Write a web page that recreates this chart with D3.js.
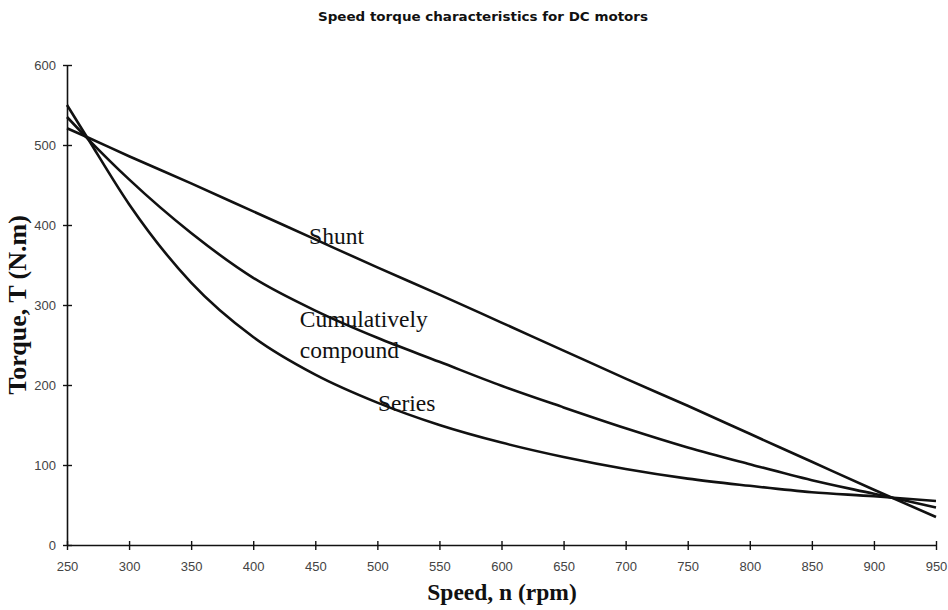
<!DOCTYPE html>
<html>
<head>
<meta charset="utf-8">
<script src="https://cdn.jsdelivr.net/npm/d3@7"></script>
<style>
  body { margin: 0; background: #fff; }
</style>
</head>
<body>
<svg id="chart"></svg>
<script>
// Speed values (rpm) used for the curves
const speeds = [250, 266, 300, 350, 400, 450, 500, 550, 600, 650, 700, 750, 800, 850, 900, 950];
// Torque values (N.m)
const shunt = [521, 510, 486, 452, 417, 382, 347, 313, 278, 243, 208, 174, 139, 104, 69, 35];
const compound = [535, 509, 457, 390, 334, 293, 259, 229, 199, 172, 146, 122, 101, 81, 64, 47];
const series = [550, 510, 426, 328, 260, 213, 178, 150, 128, 110, 95, 83, 74, 66, 61, 55];

const xTicks = [250, 300, 350, 400, 450, 500, 550, 600, 650, 700, 750, 800, 850, 900, 950];
const yTicks = [0, 100, 200, 300, 400, 500, 600];

// Labels placed on the curves
const labels = [
    { lines: ['Shunt'], x: 445, y: 376 },
    { lines: ['Cumulatively', 'compound'], x: 437.5, y: 272.5 },
    { lines: ['Series'], x: 500.5, y: 167.5 }
];

const width = 948;
const height = 610;
const margin = { top: 65, right: 12, bottom: 65, left: 67 };

const svg = d3.select('#chart')
    .attr('width', width)
    .attr('height', height)
    .style('background-color', 'white');

const x = d3.scaleLinear()
    .domain([250, 950])
    .range([margin.left, width - margin.right]);

const y = d3.scaleLinear()
    .domain([0, 600])
    .range([height - margin.bottom, margin.top]);

// Title
svg.append('text')
    .attr('x', 483)
    .attr('y', 21)
    .attr('text-anchor', 'middle')
    .attr('textLength', 330)
    .attr('lengthAdjust', 'spacingAndGlyphs')
    .style('font-family', 'DejaVu Sans, Liberation Sans, sans-serif')
    .style('font-weight', 'bold')
    .style('font-size', '12.5px')
    .attr('fill', '#111')
    .text('Speed torque characteristics for DC motors');

// X axis
const xAxis = svg.append('g')
    .attr('transform', `translate(0,${y(0)})`)
    .call(d3.axisBottom(x).tickValues(xTicks).tickSize(5).tickSizeOuter(0).tickPadding(12));

xAxis.selectAll('.tick line').attr('y1', -4);

// Y axis
const yAxis = svg.append('g')
    .attr('transform', `translate(${x(250)},0)`)
    .call(d3.axisLeft(y).tickValues(yTicks).tickSize(4).tickSizeOuter(0).tickPadding(7));

yAxis.selectAll('.tick line').attr('x1', 5);

svg.selectAll('.domain').attr('stroke', '#111').attr('stroke-width', 1.6);
svg.selectAll('.tick line').attr('stroke', '#111').attr('stroke-width', 1.4);
svg.selectAll('.tick text')
    .attr('fill', '#444')
    .style('font-family', 'Liberation Sans, Arial, sans-serif')
    .style('font-size', '13px');

// Axis titles
svg.append('text')
    .attr('x', 502)
    .attr('y', 600)
    .attr('text-anchor', 'middle')
    .style('font-family', 'Liberation Serif, Times New Roman, serif')
    .style('font-weight', 'bold')
    .style('font-size', '23.5px')
    .attr('fill', '#111')
    .text('Speed, n (rpm)');

svg.append('text')
    .attr('transform', `translate(26,${y(300) - 0}) rotate(-90)`)
    .attr('text-anchor', 'middle')
    .style('font-family', 'Liberation Serif, Times New Roman, serif')
    .style('font-weight', 'bold')
    .style('font-size', '26px')
    .attr('fill', '#111')
    .text('Torque, T (N.m)');

// Curves
const line = d3.line()
    .curve(d3.curveMonotoneX)
    .x((d) => x(d[0]))
    .y((d) => y(d[1]));

[shunt, compound, series].forEach((values) => {
    svg.append('path')
        .datum(speeds.map((s, i) => [s, values[i]]))
        .attr('fill', 'none')
        .attr('stroke', '#111')
        .attr('stroke-width', 2.6)
        .attr('d', line);
});

// Curve labels
labels.forEach((l) => {
    const t = svg.append('text')
        .attr('x', x(l.x))
        .attr('y', y(l.y))
        .style('font-family', 'Liberation Serif, Times New Roman, serif')
        .style('font-size', '23.5px')
        .attr('fill', '#111');
    l.lines.forEach((s, i) => {
        t.append('tspan')
            .attr('x', x(l.x))
            .attr('dy', i === 0 ? 0 : 31)
            .text(s);
    });
});
</script>
</body>
</html>
